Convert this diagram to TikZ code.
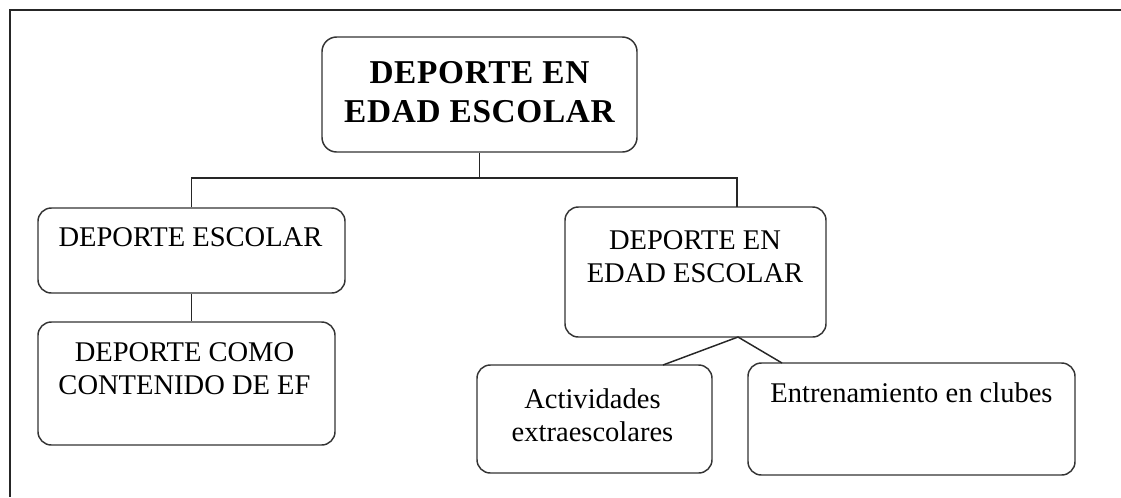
\documentclass[tikz,border=0pt]{standalone}
\usepackage{fontspec}
\setmainfont{Liberation Serif}
\newfontfamily\spacedserif[LetterSpace=2]{Liberation Serif}
\begin{document}
\begin{tikzpicture}[x=0.75pt,y=-0.75pt,
  box/.style={draw=black!80, line width=1.1pt, rounded corners=10pt, inner sep=0pt, fill=white},
  txt/.style={inner sep=0pt, align=center, font=\fontsize{21.4}{24.75}\selectfont},
  toptxt/.style={inner sep=0pt, align=center, font=\spacedserif\fontsize{25}{29.25}\selectfont\bfseries},
  conn/.style={draw=black!85, line width=1.1pt},
  frame/.style={draw=black!85, line width=1.4pt}]
\useasboundingbox (0,0) rectangle (1121,497);
\draw[frame] (1121,10) -- (10,10) -- (10,497);

% boxes
\node[box, rounded corners=11pt, minimum width=236.25pt, minimum height=86.25pt] (top) at (479.5,94.5) {};
\node[box, minimum width=230.25pt, minimum height=63.75pt] (ds) at (191.5,250.5) {};
\node[box, minimum width=222.75pt, minimum height=92.25pt] (dc) at (186.5,383.5) {};
\node[box, minimum width=195.75pt, minimum height=97.5pt] (de) at (695.5,272) {};
\node[box, minimum width=176.25pt, minimum height=81pt] (ae) at (594.5,419) {};
\node[box, minimum width=245.25pt, minimum height=84pt] (ec) at (911.5,419) {};

% texts
\node[toptxt] (toptext) at (479.5,92.5) {DEPORTE EN\\EDAD ESCOLAR};
\node[txt] (dstext) at (190.5,237) {DEPORTE ESCOLAR};
\node[txt] (dctext) at (184.5,369) {DEPORTE COMO\\CONTENIDO DE EF};
\node[txt] (detext) at (695,256.5) {DEPORTE EN\\EDAD ESCOLAR};
\node[txt] (aetext) at (592.5,415) {Actividades\\extraescolares};
\node[txt] (ectext) at (911.5,393) {Entrenamiento en clubes};

% connectors
\coordinate (jt) at (479.5,178);
\coordinate (dein) at (737,207);
\coordinate (deout) at (738,337);
\coordinate (aein) at (663,365);
\coordinate (ecin) at (782,363);
\draw[conn] (top.south) -- (jt);
\draw[conn] (ds.north) |- (jt) -| (dein);
\draw[conn] (ds.south) -- (ds.south |- dc.north);
\draw[conn] (aein) -- (deout) -- (ecin);
\end{tikzpicture}
\end{document}
